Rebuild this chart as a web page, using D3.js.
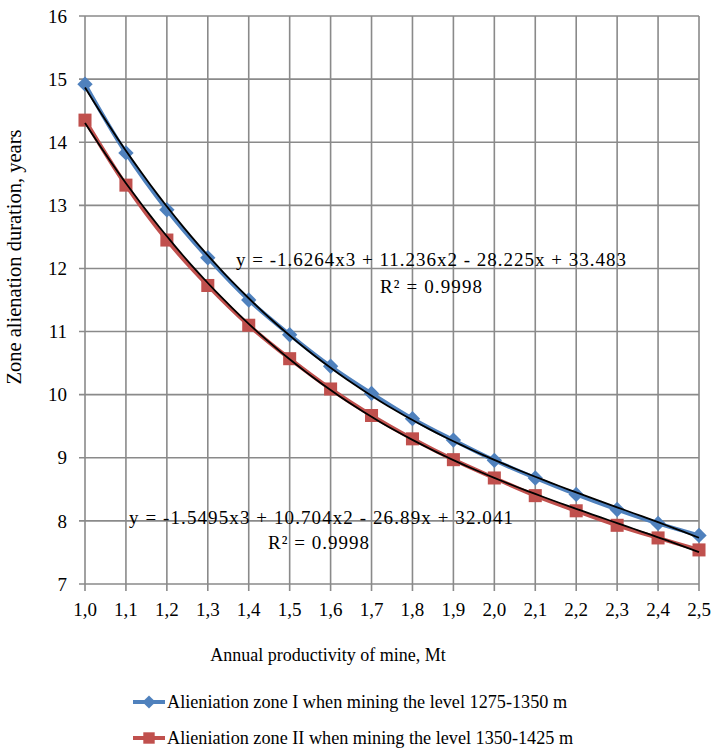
<!DOCTYPE html>
<html>
<head>
<meta charset="utf-8">
<script src="https://cdn.jsdelivr.net/npm/d3@7/dist/d3.min.js"></script>
<style>
  body { margin: 0; background: #fff; }
  text { font-family: "Liberation Serif", "Times New Roman", serif; fill: #000; }
  .grid line { stroke: #8a8a8a; stroke-width: 1.6; }
</style>
</head>
<body>
<div id="chart"></div>
<script>
// data
var productivity = [1.0, 1.1, 1.2, 1.3, 1.4, 1.5, 1.6, 1.7, 1.8, 1.9, 2.0, 2.1, 2.2, 2.3, 2.4, 2.5];
var zone1 = [14.92, 13.83, 12.93, 12.17, 11.50, 10.95, 10.45, 10.02, 9.62, 9.28, 8.96, 8.68, 8.42, 8.18, 7.96, 7.77];
var zone2 = [14.35, 13.32, 12.45, 11.73, 11.10, 10.57, 10.09, 9.67, 9.30, 8.97, 8.68, 8.40, 8.16, 7.93, 7.73, 7.54];
var yTicks = [7, 8, 9, 10, 11, 12, 13, 14, 15, 16];
// trendline coefficients shown on the chart (a3, a2, a1, a0)
var trend1 = [-1.6264, 11.236, -28.225, 33.483];
var trend2 = [-1.5495, 10.704, -26.89, 32.041];
var seriesNames = ["Alieniation zone I when mining the level 1275-1350 m",
                   "Alieniation zone II when mining the level 1350-1425 m"];

var W = 714, H = 750;
var margin = {left: 85, top: 16, right: 15, bottom: 166};
var width = W - margin.left - margin.right,
    height = H - margin.top - margin.bottom;

var svg = d3.select("#chart").append("svg")
  .attr("width", W).attr("height", H);
var g = svg.append("g")
  .attr("transform", "translate(" + margin.left + "," + margin.top + ")");

var x = d3.scaleLinear().domain([1.0, 2.5]).range([0, width]);
var y = d3.scaleLinear().domain([7, 16]).range([height, 0]);

// grid
var grid = g.append("g").attr("class", "grid");
grid.selectAll(".h").data(yTicks).enter().append("line")
  .attr("x1", -6).attr("x2", width)
  .attr("y1", function(d) { return y(d); }).attr("y2", function(d) { return y(d); });
grid.selectAll(".v").data(productivity).enter().append("line")
  .attr("y1", 0).attr("y2", height + 7)
  .attr("x1", function(d) { return x(d); }).attr("x2", function(d) { return x(d); });

// tick labels
g.selectAll(".ylab").data(yTicks).enter().append("text")
  .attr("x", -18).attr("y", function(d) { return y(d); })
  .attr("dy", "0.35em").attr("text-anchor", "end")
  .style("font-size", "19px").text(function(d) { return d; });
g.selectAll(".xlab").data(productivity).enter().append("text")
  .attr("x", function(d) { return x(d); }).attr("y", height + 32)
  .attr("text-anchor", "middle").style("font-size", "19px")
  .text(function(d) { return d.toFixed(1).replace(".", ","); });

// axis titles
svg.append("text")
  .attr("transform", "translate(21,257) rotate(-90)")
  .attr("text-anchor", "middle").style("font-size", "20.5px")
  .text("Zone alienation duration, years");
svg.append("text")
  .attr("x", 328).attr("y", 661).attr("text-anchor", "middle")
  .style("font-size", "18px")
  .text("Annual productivity of mine, Mt");

var pts1 = productivity.map(function(p, i) { return {x: p, y: zone1[i]}; });
var pts2 = productivity.map(function(p, i) { return {x: p, y: zone2[i]}; });

var line = d3.line()
  .x(function(d) { return x(d.x); })
  .y(function(d) { return y(d.y); })
  .curve(d3.curveCatmullRom);

var blue = "#4f81bd", red = "#c0504d";

function trendPoints(c) {
  var out = [];
  for (var t = 1.0; t <= 2.5001; t += 0.02) {
    out.push({x: t, y: c[0]*t*t*t + c[1]*t*t + c[2]*t + c[3]});
  }
  return out;
}

function drawSeries(pts, color, shape, size) {
  g.append("path").datum(pts)
    .attr("fill", "none").attr("stroke", color).attr("stroke-width", 4)
    .attr("d", line);
  g.selectAll(null).data(pts).enter().append("path")
    .attr("transform", function(d) { return "translate(" + x(d.x) + "," + y(d.y) + ")"; })
    .attr("d", d3.symbol().type(shape).size(size))
    .attr("fill", color);
}

drawSeries(pts1, blue, d3.symbolDiamond2, 150);
drawSeries(pts2, red, d3.symbolSquare, 170);

// trendlines
[trend1, trend2].forEach(function(c) {
  g.append("path").datum(trendPoints(c))
    .attr("fill", "none").attr("stroke", "#000").attr("stroke-width", 1.8)
    .attr("d", d3.line().x(function(d) { return x(d.x); }).y(function(d) { return y(d.y); }));
});

// trendline labels (Excel draws them wider than plain Times)
function eqText(c) {
  return "y = " + c[0] + "x3 + " + c[1] + "x2 - " + Math.abs(c[2]) + "x + " + c[3];
}
function label(txt, x0, y0, len) {
  svg.append("text").attr("x", x0).attr("y", y0)
    .attr("textLength", len).attr("lengthAdjust", "spacing")
    .style("font-size", "19px").text(txt);
}
label(eqText(trend1), 236, 266, 390);
label("R² = 0.9998", 380, 293, 102);
label(eqText(trend2), 129, 524, 384);
label("R² = 0.9998", 268, 549, 101);

// legend
var legend = svg.selectAll(".legend").data([
  {name: seriesNames[0], color: blue, shape: d3.symbolDiamond2, size: 110},
  {name: seriesNames[1], color: red, shape: d3.symbolSquare, size: 130}
]).enter().append("g")
  .attr("transform", function(d, i) { return "translate(133," + (702 + i * 36) + ")"; });
legend.append("line").attr("x1", 0).attr("x2", 32)
  .attr("stroke", function(d) { return d.color; }).attr("stroke-width", 4);
legend.append("path").attr("transform", "translate(16,0)")
  .attr("d", function(d) { return d3.symbol().type(d.shape).size(d.size)(); })
  .attr("fill", function(d) { return d.color; });
legend.append("text").attr("x", 34).attr("dy", "0.35em")
  .style("font-size", "18.2px").text(function(d) { return d.name; });
</script>
</body>
</html>
